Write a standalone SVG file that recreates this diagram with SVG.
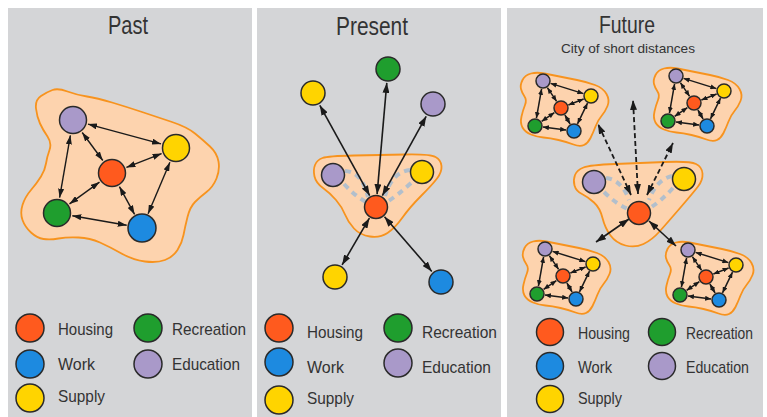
<svg xmlns="http://www.w3.org/2000/svg" width="767" height="417" viewBox="0 0 767 417">
<style>
.panel{fill:#d4d5d7}
.zone{fill:#fdd3ae;stroke:#f7931e;stroke-width:1.8}
.n{stroke:#2a2a2a;stroke-width:1.5}
.hs{fill:#ff5a1e}.wk{fill:#1d8ae0}.sp{fill:#ffd400}.rc{fill:#1f9e2e}.ed{fill:#a999c9}
.e{stroke:#1a1a1a;stroke-width:1.4;fill:none;marker-start:url(#ah);marker-end:url(#ah)}
.eb{stroke:#1a1a1a;stroke-width:1.6;fill:none;marker-start:url(#ahb);marker-end:url(#ahb)}
.es{stroke:#1a1a1a;stroke-width:1.5;fill:none;marker-start:url(#ahs);marker-end:url(#ahs)}
.ed2{stroke:#1a1a1a;stroke-width:1.8;fill:none;stroke-dasharray:5 3;marker-start:url(#ahb);marker-end:url(#ahb)}
.gd{stroke:#b2bfcc;stroke-width:4;fill:none;stroke-dasharray:6 5}
.t{font-family:"Liberation Sans",Arial,sans-serif;fill:#333}
.title{font-size:25px}
.lg{font-size:17px}
</style>
<defs>
<marker id="ah" viewBox="0 0 10 10" refX="10" refY="5" markerWidth="9" markerHeight="6" markerUnits="userSpaceOnUse" orient="auto-start-reverse" preserveAspectRatio="none"><path d="M0,0 L10,5 L0,10 z" fill="#1a1a1a"/></marker>
<marker id="ahb" viewBox="0 0 10 10" refX="10" refY="5" markerWidth="10" markerHeight="7" markerUnits="userSpaceOnUse" orient="auto-start-reverse" preserveAspectRatio="none"><path d="M0,0 L10,5 L0,10 z" fill="#1a1a1a"/></marker>
<marker id="ahs" viewBox="0 0 10 10" refX="10" refY="5" markerWidth="6" markerHeight="5" markerUnits="userSpaceOnUse" orient="auto-start-reverse" preserveAspectRatio="none"><path d="M0,0 L10,5 L0,10 z" fill="#1a1a1a"/></marker>
<path id="cz" d="M-22,8 Q-23,4 -20.5,-1 Q-18,-6 -12,-7.5 Q-6,-9 1.5,-7.5 Q9,-6 16.5,-4.5 Q24,-3 34,-1 Q44,1 52,4 Q60,7 63.5,13 Q67,19 64.5,25 Q62,31 58.5,35 Q55,39 52.5,45.5 Q50,52 47.5,57 Q45,62 41,64 Q37,66 30.5,63.5 Q24,61 15.5,59 Q7,57 0.5,56.5 Q-6,56 -12,53.5 Q-18,51 -20.5,46.5 Q-23,42 -21.5,35.5 Q-20,29 -18,24 Q-16,19 -18.5,15.5 Q-21,12 -22,8 Z"/>
</defs>
<rect width="767" height="417" fill="#ffffff"/>
<g id="panels">
<rect class="panel" x="8" y="8" width="244" height="409"/>
<rect class="panel" x="257" y="8" width="244" height="409"/>
<rect class="panel" x="507" y="8" width="256" height="409"/>
</g>
<g id="titles">
<text class="t title" x="128" y="34" text-anchor="middle" textLength="40" lengthAdjust="spacingAndGlyphs">Past</text>
<text class="t title" x="372" y="35" text-anchor="middle" textLength="72" lengthAdjust="spacingAndGlyphs">Present</text>
<text class="t" x="627" y="33" font-size="23" text-anchor="middle" textLength="56" lengthAdjust="spacingAndGlyphs">Future</text>
<text class="t" x="628" y="53" font-size="13" text-anchor="middle" textLength="134" lengthAdjust="spacingAndGlyphs">City of short distances</text>
</g>
<g id="zones">
<path id="past-zone" class="zone" d="M36,108.5 Q35,100 41,96 Q47,92 52.5,90 Q58,88 67.5,91.5 Q77,95 87,96.5 Q97,98 112,102.5 Q127,107 142,112 Q157,117 172,122 Q187,127 195,133.5 Q203,140 210,146.5 Q217,153 218.5,161.5 Q220,170 216.5,178.5 Q213,187 206.5,192 Q200,197 195,202 Q190,207 187.5,217 Q185,227 183.5,235 Q182,243 177.5,250 Q173,257 165,260 Q157,263 145,261.5 Q133,260 121.5,253.5 Q110,247 100,242.5 Q90,238 78.5,237.5 Q67,237 58.5,238.5 Q50,240 43.5,239 Q37,238 31,232.5 Q25,227 22.5,220 Q20,213 22.5,205 Q25,197 31,190 Q37,183 41,176.5 Q45,170 46,163.5 Q47,157 49.5,150 Q52,143 47.5,136.5 Q43,130 40,123.5 Q37,117 36,108.5 Z"/>
<path id="present-zone" class="zone" d="M314.5,176.5 Q313,170 315,165 Q317,160 322.5,158 Q328,156 354,155.5 Q380,155 405,154.5 Q430,154 435.5,157 Q441,160 441.5,166 Q442,172 437,178.5 Q432,185 421,196 Q410,207 402.5,217.5 Q395,228 387.5,233 Q380,238 370,236.5 Q360,235 354,228.5 Q348,222 345,214.5 Q342,207 336,200 Q330,193 323,188 Q316,183 314.5,176.5 Z"/>
<path id="future-zone" class="zone" d="M574.5,185.5 Q573,180 575,175 Q577,170 583.5,167.5 Q590,165 615,164 Q640,163 665,162 Q690,161 696,164 Q702,167 702.5,173.5 Q703,180 698,186.5 Q693,193 680.5,207.5 Q668,222 660,231 Q652,240 643.5,244 Q635,248 625.5,245.5 Q616,243 610.5,235.5 Q605,228 602.5,218 Q600,208 594,202.5 Q588,197 582,194 Q576,191 574.5,185.5 Z"/>
<use id="ftl-zone" href="#cz" class="zone" transform="translate(543,81)"/>
<use id="ftr-zone" href="#cz" class="zone" transform="translate(676,76)"/>
<use id="fbl-zone" href="#cz" class="zone" transform="translate(545,249)"/>
<use id="fbr-zone" href="#cz" class="zone" transform="translate(688,250)"/>
</g>
<g id="connectors">
<g id="past-edges">
<line class="e" x1="88" y1="124.1" x2="161" y2="143.9"/>
<line class="e" x1="82.2" y1="132.5" x2="102.8" y2="160.5"/>
<line class="e" x1="70.4" y1="135.3" x2="59.6" y2="197.7"/>
<line class="e" x1="161.6" y1="153.6" x2="126.4" y2="167.4"/>
<line class="e" x1="169.9" y1="162.3" x2="148.1" y2="213.7"/>
<line class="e" x1="99.5" y1="182.1" x2="69.5" y2="203.9"/>
<line class="e" x1="119.4" y1="186.6" x2="134.6" y2="214.4"/>
<line class="e" x1="72.3" y1="215.7" x2="126.7" y2="225.3"/>
</g>
<g id="present-edges">
<path class="gd" d="M345,171 Q362,172 368,197"/>
<path class="gd" d="M344,184 Q355,196 366,202"/>
<path class="gd" d="M410,170 Q392,172 385,196"/>
<path class="gd" d="M411,183 Q398,195 387,202"/>
<line class="eb" x1="377.1" y1="194.1" x2="386.8" y2="82.9"/>
<line class="eb" x1="369.7" y1="195.6" x2="319.8" y2="105.3"/>
<line class="eb" x1="382.3" y1="195.6" x2="426.2" y2="116.3"/>
<line class="eb" x1="369.4" y1="218.2" x2="342.1" y2="264.9"/>
<line class="eb" x1="384.5" y1="216.8" x2="431.8" y2="271.4"/>
</g>
<g id="future-edges">
<path class="gd" d="M606,178 Q622,180 629,200"/>
<path class="gd" d="M604,192 Q616,204 628,209"/>
<path class="gd" d="M672,176 Q656,180 649,200"/>
<path class="gd" d="M673,188 Q661,201 650,208"/>
<line class="ed2" x1="631" y1="195" x2="598" y2="124"/>
<line class="ed2" x1="638" y1="194" x2="633" y2="100"/>
<line class="ed2" x1="647" y1="195" x2="673" y2="143"/>
<line class="eb" x1="629" y1="219" x2="596" y2="242"/>
<line class="eb" x1="649" y1="221" x2="676" y2="246"/>
</g>
<g id="cluster-edges">
<g transform="translate(543,81)">
<line class="es" x1="7.6" y1="2.4" x2="40.4" y2="12.6"/><line class="es" x1="4.4" y1="6.7" x2="13.6" y2="20.3"/><line class="es" x1="-1.4" y1="7.9" x2="-6.6" y2="37.1"/><line class="es" x1="40.6" y1="18" x2="25.4" y2="24"/><line class="es" x1="44.5" y1="22.2" x2="34.5" y2="42.8"/><line class="es" x1="11.4" y1="31.6" x2="-1.4" y2="40.4"/><line class="es" x1="21.9" y1="34" x2="27.1" y2="43"/><line class="es" x1="-0.1" y1="46" x2="23.1" y2="49"/>
</g>
<g transform="translate(676,76)">
<line class="es" x1="7.6" y1="2.4" x2="40.4" y2="12.6"/><line class="es" x1="4.4" y1="6.7" x2="13.6" y2="20.3"/><line class="es" x1="-1.4" y1="7.9" x2="-6.6" y2="37.1"/><line class="es" x1="40.6" y1="18" x2="25.4" y2="24"/><line class="es" x1="44.5" y1="22.2" x2="34.5" y2="42.8"/><line class="es" x1="11.4" y1="31.6" x2="-1.4" y2="40.4"/><line class="es" x1="21.9" y1="34" x2="27.1" y2="43"/><line class="es" x1="-0.1" y1="46" x2="23.1" y2="49"/>
</g>
<g transform="translate(545,249)">
<line class="es" x1="7.6" y1="2.4" x2="40.4" y2="12.6"/><line class="es" x1="4.4" y1="6.7" x2="13.6" y2="20.3"/><line class="es" x1="-1.4" y1="7.9" x2="-6.6" y2="37.1"/><line class="es" x1="40.6" y1="18" x2="25.4" y2="24"/><line class="es" x1="44.5" y1="22.2" x2="34.5" y2="42.8"/><line class="es" x1="11.4" y1="31.6" x2="-1.4" y2="40.4"/><line class="es" x1="21.9" y1="34" x2="27.1" y2="43"/><line class="es" x1="-0.1" y1="46" x2="23.1" y2="49"/>
</g>
<g transform="translate(688,250)">
<line class="es" x1="7.6" y1="2.4" x2="40.4" y2="12.6"/><line class="es" x1="4.4" y1="6.7" x2="13.6" y2="20.3"/><line class="es" x1="-1.4" y1="7.9" x2="-6.6" y2="37.1"/><line class="es" x1="40.6" y1="18" x2="25.4" y2="24"/><line class="es" x1="44.5" y1="22.2" x2="34.5" y2="42.8"/><line class="es" x1="11.4" y1="31.6" x2="-1.4" y2="40.4"/><line class="es" x1="21.9" y1="34" x2="27.1" y2="43"/><line class="es" x1="-0.1" y1="46" x2="23.1" y2="49"/>
</g>
</g>
</g>
<g id="past-nodes">
<g id="past-education"><circle class="n ed" cx="73" cy="120" r="13.5"/></g>
<g id="past-supply"><circle class="n sp" cx="176" cy="148" r="13.5"/></g>
<g id="past-housing"><circle class="n hs" cx="112" cy="173" r="13.5"/></g>
<g id="past-recreation"><circle class="n rc" cx="57" cy="213" r="13.5"/></g>
<g id="past-work"><circle class="n wk" cx="142" cy="228" r="14"/></g>
</g>
<g id="present-nodes">
<g id="pr-recreation"><circle class="n rc" cx="388" cy="69" r="12"/></g>
<g id="pr-supply-out"><circle class="n sp" cx="313" cy="93" r="12"/></g>
<g id="pr-education-out"><circle class="n ed" cx="433" cy="104" r="12"/></g>
<g id="pr-education"><circle class="n ed" cx="333" cy="175" r="11.5"/></g>
<g id="pr-supply"><circle class="n sp" cx="422" cy="172" r="11.5"/></g>
<g id="pr-housing"><circle class="n hs" cx="376" cy="207" r="11.5"/></g>
<g id="pr-supply-out2"><circle class="n sp" cx="335" cy="277" r="12"/></g>
<g id="pr-work"><circle class="n wk" cx="441" cy="282" r="12"/></g>
</g>
<g id="future-nodes">
<g id="fu-education"><circle class="n ed" cx="594" cy="182" r="11.5"/></g>
<g id="fu-supply"><circle class="n sp" cx="684" cy="179" r="11.5"/></g>
<g id="fu-housing"><circle class="n hs" cx="639" cy="213" r="11.5"/></g>
<g id="ftl" transform="translate(543,81)">
<g id="ftl-education"><circle class="n ed" cx="0" cy="0" r="7"/></g>
<g id="ftl-supply"><circle class="n sp" cx="48" cy="15" r="7"/></g>
<g id="ftl-housing"><circle class="n hs" cx="18" cy="27" r="7"/></g>
<g id="ftl-recreation"><circle class="n rc" cx="-8" cy="45" r="7"/></g>
<g id="ftl-work"><circle class="n wk" cx="31" cy="50" r="7"/></g>
</g>
<g id="ftr" transform="translate(676,76)">
<g id="ftr-education"><circle class="n ed" cx="0" cy="0" r="7"/></g>
<g id="ftr-supply"><circle class="n sp" cx="48" cy="15" r="7"/></g>
<g id="ftr-housing"><circle class="n hs" cx="18" cy="27" r="7"/></g>
<g id="ftr-recreation"><circle class="n rc" cx="-8" cy="45" r="7"/></g>
<g id="ftr-work"><circle class="n wk" cx="31" cy="50" r="7"/></g>
</g>
<g id="fbl" transform="translate(545,249)">
<g id="fbl-education"><circle class="n ed" cx="0" cy="0" r="7"/></g>
<g id="fbl-supply"><circle class="n sp" cx="48" cy="15" r="7"/></g>
<g id="fbl-housing"><circle class="n hs" cx="18" cy="27" r="7"/></g>
<g id="fbl-recreation"><circle class="n rc" cx="-8" cy="45" r="7"/></g>
<g id="fbl-work"><circle class="n wk" cx="31" cy="50" r="7"/></g>
</g>
<g id="fbr" transform="translate(688,250)">
<g id="fbr-education"><circle class="n ed" cx="0" cy="0" r="7"/></g>
<g id="fbr-supply"><circle class="n sp" cx="48" cy="15" r="7"/></g>
<g id="fbr-housing"><circle class="n hs" cx="18" cy="27" r="7"/></g>
<g id="fbr-recreation"><circle class="n rc" cx="-8" cy="45" r="7"/></g>
<g id="fbr-work"><circle class="n wk" cx="31" cy="50" r="7"/></g>
</g>
</g>
<g id="legend-past">
<circle class="n hs" cx="30" cy="328" r="14"/><text class="t lg" x="58" y="335" textLength="55" lengthAdjust="spacingAndGlyphs">Housing</text>
<circle class="n wk" cx="30" cy="364" r="14"/><text class="t lg" x="58" y="370" textLength="37" lengthAdjust="spacingAndGlyphs">Work</text>
<circle class="n sp" cx="30" cy="398" r="14"/><text class="t lg" x="58" y="402" textLength="47" lengthAdjust="spacingAndGlyphs">Supply</text>
<circle class="n rc" cx="148" cy="328" r="14"/><text class="t lg" x="172" y="335" textLength="74" lengthAdjust="spacingAndGlyphs">Recreation</text>
<circle class="n ed" cx="148" cy="364" r="14"/><text class="t lg" x="172" y="370" textLength="68" lengthAdjust="spacingAndGlyphs">Education</text>
</g>
<g id="legend-present">
<circle class="n hs" cx="279" cy="328" r="14"/><text class="t lg" x="307" y="338" textLength="56" lengthAdjust="spacingAndGlyphs">Housing</text>
<circle class="n wk" cx="279" cy="362" r="14"/><text class="t lg" x="307" y="373" textLength="37" lengthAdjust="spacingAndGlyphs">Work</text>
<circle class="n sp" cx="279" cy="400" r="14"/><text class="t lg" x="307" y="404" textLength="47" lengthAdjust="spacingAndGlyphs">Supply</text>
<circle class="n rc" cx="398" cy="328" r="14"/><text class="t lg" x="422" y="338" textLength="75" lengthAdjust="spacingAndGlyphs">Recreation</text>
<circle class="n ed" cx="398" cy="363" r="14"/><text class="t lg" x="422" y="373" textLength="69" lengthAdjust="spacingAndGlyphs">Education</text>
</g>
<g id="legend-future">
<circle class="n hs" cx="550" cy="332" r="13.5"/><text class="t lg" x="578" y="339" textLength="52" lengthAdjust="spacingAndGlyphs">Housing</text>
<circle class="n wk" cx="550" cy="366" r="13.5"/><text class="t lg" x="578" y="373" textLength="34" lengthAdjust="spacingAndGlyphs">Work</text>
<circle class="n sp" cx="550" cy="399" r="13.5"/><text class="t lg" x="578" y="404" textLength="44" lengthAdjust="spacingAndGlyphs">Supply</text>
<circle class="n rc" cx="662" cy="332" r="13.5"/><text class="t lg" x="686" y="339" textLength="67" lengthAdjust="spacingAndGlyphs">Recreation</text>
<circle class="n ed" cx="662" cy="366" r="13.5"/><text class="t lg" x="686" y="373" textLength="63" lengthAdjust="spacingAndGlyphs">Education</text>
</g>
</svg>
